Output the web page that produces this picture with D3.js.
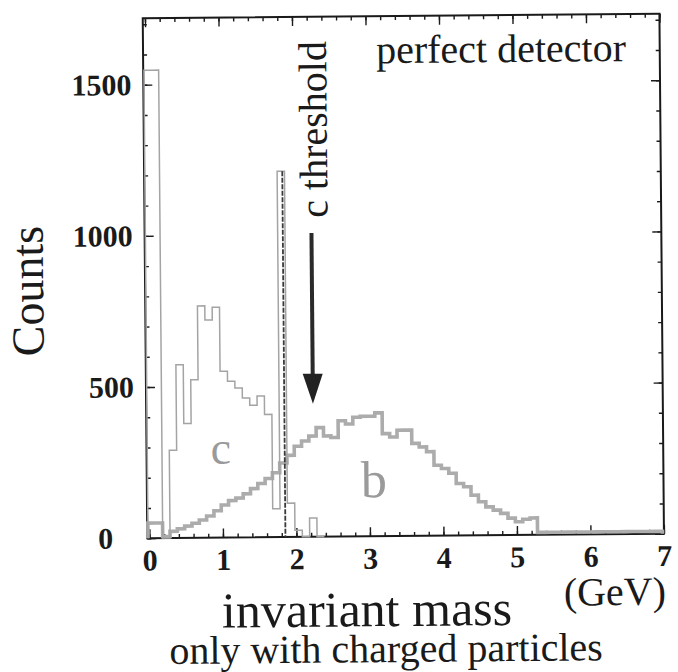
<!DOCTYPE html>
<html>
<head>
<meta charset="utf-8">
<script src="https://cdn.jsdelivr.net/npm/d3@7"></script>
<style>
  body { margin: 0; background: #fff; }
  svg { display: block; }
</style>
</head>
<body>
<svg id="chart" width="678" height="672"></svg>
<script>
// ---- data -------------------------------------------------------------
// histogram bins are 0.1 GeV wide, the first one starting at binOrigin
const binWidth = 0.1;
const binOrigin = -0.02;

// c-quark events: counts per bin
const cCounts = [1548, 1548, 0, 290, 573, 378, 523, 767, 720, 762,
                 550, 517, 494, 461, 437, 467, 406, 94, 1210, 112,
                 22, 0, 62, 0];

// b-quark events: counts per bin
const bCounts = [50, 50, 5, 22, 30, 39, 48, 59, 72, 89,
                 108, 122, 130, 144, 161, 178, 194, 213, 245, 270,
                 300, 317, 333, 361, 333, 328, 383, 372, 394, 397,
                 397, 408, 339, 328, 350, 350, 306, 294, 278, 233,
                 222, 206, 172, 161, 133, 111, 94, 83, 72, 56,
                 44, 52, 56, 8, 8, 8, 8, 8, 8, 8,
                 8, 8, 8, 8, 8, 8, 8, 8, 8, 8];

// D-meson mass line and the c threshold arrow (GeV)
const dMass = 1.85;
const dPeakCounts = 1210;
const cThreshold = 2.24;
const arrowFrom = 1005;   // counts where the arrow shaft starts
const arrowTo = 440;      // counts at the arrow tip

const xTicks = [0, 1, 2, 3, 4, 5, 6, 7];
const yTicks = [0, 500, 1000, 1500];

// ---- layout -----------------------------------------------------------
const svg = d3.select("#chart");
svg.append("rect").attr("width", 678).attr("height", 672).attr("fill", "#fff");

const frame = { left: 145, right: 661.7, top: 16, bottom: 536 };

const x = d3.scaleLinear().domain([-0.03, 7]).range([frame.left, frame.right]);
const y = d3.scaleLinear().domain([0, 1720]).range([frame.bottom, frame.top]);

// whole figure sits very slightly tilted
const root = svg.append("g").attr("transform", "rotate(-0.5, 400, 276)");

const serif = "'Liberation Serif', 'Times New Roman', serif";
const ink = "#1a1a1a";
const grey = "#a4a4a4";
const intFmt = d3.format("d");

// ---- axes and frame ---------------------------------------------------
const minorX = d3.range(0, 7.001, 0.2);
const minorY = d3.range(0, 1701, 100);

function tickLayer(axis) {
  const g = root.append("g").call(axis);
  g.select(".domain").remove();
  g.selectAll(".tick line").attr("stroke", ink).attr("stroke-width", 1.4);
  return g;
}

// bottom
tickLayer(d3.axisBottom(x).tickValues(minorX).tickSize(-4).tickFormat(""))
  .attr("transform", `translate(0,${frame.bottom})`);
const xAxis = tickLayer(d3.axisBottom(x).tickValues(xTicks).tickSize(-9).tickPadding(11).tickFormat(intFmt))
  .attr("transform", `translate(0,${frame.bottom})`);
xAxis.selectAll("text")
  .attr("fill", ink).attr("font-family", serif).attr("font-weight", "bold").attr("font-size", 30);

// top
tickLayer(d3.axisTop(x).tickValues(minorX).tickSize(-4).tickFormat(""))
  .attr("transform", `translate(0,${frame.top})`);
tickLayer(d3.axisTop(x).tickValues(xTicks).tickSize(-9).tickFormat(""))
  .attr("transform", `translate(0,${frame.top})`);

// left: tick marks from the axis, labels placed beside them
tickLayer(d3.axisLeft(y).tickValues(minorY).tickSize(-4).tickFormat(""))
  .attr("transform", `translate(${frame.left},0)`);
tickLayer(d3.axisLeft(y).tickValues(yTicks).tickSize(-9).tickFormat(""))
  .attr("transform", `translate(${frame.left},0)`);
root.append("g").selectAll("text")
  .data(yTicks)
  .join("text")
  .attr("x", d => frame.left - (d === 0 ? 34 : 12))
  .attr("y", d => y(d))
  .attr("dy", "0.34em")
  .attr("text-anchor", "end")
  .attr("fill", ink)
  .attr("font-family", serif).attr("font-weight", "bold").attr("font-size", 30)
  .text(intFmt);

// right
tickLayer(d3.axisRight(y).tickValues(minorY).tickSize(-4).tickFormat(""))
  .attr("transform", `translate(${frame.right},0)`);
tickLayer(d3.axisRight(y).tickValues(yTicks).tickSize(-9).tickFormat(""))
  .attr("transform", `translate(${frame.right},0)`);

root.append("rect")
  .attr("x", frame.left).attr("y", frame.top)
  .attr("width", frame.right - frame.left).attr("height", frame.bottom - frame.top)
  .attr("fill", "none").attr("stroke", ink).attr("stroke-width", 2);

// ---- histograms -------------------------------------------------------
function stepPoints(counts) {
  const pts = [[binOrigin, 0]];
  counts.forEach((v, i) => {
    const x0 = binOrigin + i * binWidth;
    pts.push([x0, v], [x0 + binWidth, v]);
  });
  pts.push([binOrigin + counts.length * binWidth, 0]);
  return pts;
}
const line = d3.line().x(d => x(d[0])).y(d => y(d[1]));

root.append("path")
  .attr("d", line(stepPoints(bCounts)))
  .attr("fill", "none").attr("stroke", "#acacac").attr("stroke-width", 3.6)
  .attr("stroke-linejoin", "miter");

root.append("path")
  .attr("d", line(stepPoints(cCounts)))
  .attr("fill", "none").attr("stroke", grey).attr("stroke-width", 1.5);

// dark line through the D peak
root.append("line")
  .attr("x1", x(dMass)).attr("x2", x(dMass))
  .attr("y1", y(dPeakCounts)).attr("y2", y(0))
  .attr("stroke", "#3a3a3a").attr("stroke-width", 1.8)
  .attr("stroke-dasharray", "5,1.5");

// ---- threshold arrow --------------------------------------------------
const ax = x(cThreshold);
const headBase = y(arrowTo) - 30;
root.append("line")
  .attr("x1", ax).attr("x2", ax)
  .attr("y1", y(arrowFrom)).attr("y2", headBase + 2)
  .attr("stroke", "#2a2a2a").attr("stroke-width", 4);
root.append("path")
  .attr("d", `M${ax - 10},${headBase} L${ax + 10},${headBase} L${ax},${y(arrowTo)} Z`)
  .attr("fill", "#222");

// ---- text -------------------------------------------------------------
function label(txt, px, py, size, opts = {}) {
  const t = root.append("text")
    .attr("x", px).attr("y", py)
    .attr("font-family", serif).attr("font-size", size)
    .attr("fill", opts.fill || ink)
    .attr("text-anchor", opts.anchor || "start")
    .text(txt);
  if (opts.rotate) t.attr("transform", `rotate(${opts.rotate}, ${px}, ${py})`);
  return t;
}

label("perfect detector", 378, 63, 40);
label("c threshold", 328, 217, 40, { rotate: -90 });
label("Counts", 43, 288, 46, { rotate: -90, anchor: "middle" });
label("invariant mass", 219, 626, 50);
label("(GeV)", 561, 607, 40);
label("only with charged particles", 166, 662, 40);
label("c", 209, 462, 46, { fill: "#9a9a9a" });
label("b", 359, 497, 52, { fill: "#9a9a9a" });
</script>
</body>
</html>
